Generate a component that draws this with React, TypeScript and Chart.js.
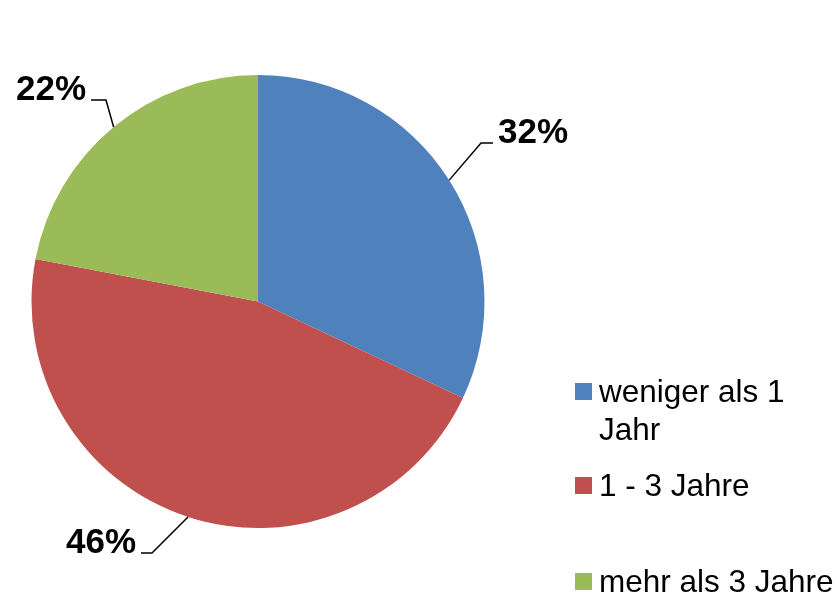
import React, { useEffect, useRef } from "react";
import { Chart, registerables } from "chart.js";

Chart.register(...registerables);

const categories = ["weniger als 1 Jahr", "1 - 3 Jahre", "mehr als 3 Jahre"];
const values = [32, 46, 22];
const colors = ["#4F81BD", "#C0504D", "#9BBB59"];

const FONT = "'Liberation Sans', Arial, sans-serif";

// elbow points of the leader lines, side and length of horizontal segment
const labelElbows = [
  { x: 481, y: 143, side: 1, len: 12 },
  { x: 152, y: 553, side: -1, len: 11 },
  { x: 106, y: 100, side: -1, len: 15 },
];
const legendTops = [383, 477, 573];

const labelPlugin = {
  id: "pieLabels",
  afterDatasetsDraw(chart: any) {
    const ctx = chart.ctx;
    const meta = chart.getDatasetMeta(0);
    const total = values.reduce((a, b) => a + b, 0);
    ctx.save();
    meta.data.forEach((arc: any, i: number) => {
      const { x, y, outerRadius, startAngle, endAngle } = arc.getProps(
        ["x", "y", "outerRadius", "startAngle", "endAngle"],
        true
      );
      const mid = (startAngle + endAngle) / 2;
      const px = x + Math.cos(mid) * outerRadius;
      const py = y + Math.sin(mid) * outerRadius;
      const e = labelElbows[i];
      const hx = e.x + e.side * e.len;
      ctx.strokeStyle = "#000";
      ctx.lineWidth = 1.5;
      ctx.beginPath();
      ctx.moveTo(px, py);
      ctx.lineTo(e.x, e.y);
      ctx.lineTo(hx, e.y);
      ctx.stroke();
      ctx.fillStyle = "#000";
      ctx.font = `bold 35px ${FONT}`;
      ctx.textBaseline = "alphabetic";
      ctx.textAlign = e.side > 0 ? "left" : "right";
      const txt = Math.round((values[i] / total) * 100) + "%";
      ctx.fillText(txt, hx + e.side * 5, e.y);
    });
    ctx.restore();
  },
};

const legendPlugin = {
  id: "customLegend",
  afterDraw(chart: any) {
    const ctx = chart.ctx;
    ctx.save();
    ctx.font = `31.5px ${FONT}`;
    const textX = 599;
    const maxW = 235;
    categories.forEach((label, i) => {
      const top = legendTops[i];
      ctx.fillStyle = colors[i];
      ctx.fillRect(575, top, 17, 17);
      const words = label.split(" ");
      const lines: string[] = [];
      let cur = "";
      words.forEach((w) => {
        const t = cur ? cur + " " + w : w;
        if (ctx.measureText(t).width > maxW && cur) {
          lines.push(cur);
          cur = w;
        } else cur = t;
      });
      if (cur) lines.push(cur);
      ctx.fillStyle = "#000";
      ctx.textAlign = "left";
      ctx.textBaseline = "alphabetic";
      lines.forEach((ln, j) => {
        ctx.fillText(ln, textX, top + 19 + j * 38);
      });
    });
    ctx.restore();
  },
};

export default function App() {
  const ref = useRef<HTMLCanvasElement | null>(null);
  useEffect(() => {
    if (!ref.current) return;
    const chart = new Chart(ref.current, {
      type: "pie",
      data: {
        labels: categories,
        datasets: [
          {
            data: values,
            backgroundColor: colors,
            borderWidth: 0,
          },
        ],
      },
      options: {
        animation: false,
        responsive: false,
        maintainAspectRatio: false,
        layout: { padding: { left: 31.5, top: 75, right: 354.5, bottom: 64 } },
        plugins: {
          legend: { display: false },
          tooltip: { enabled: false },
        },
      },
      plugins: [labelPlugin, legendPlugin],
    });
    return () => chart.destroy();
  }, []);
  return (
    <div style={{ position: "fixed", left: 0, top: 0, width: 839, height: 592, background: "#fff" }}>
      <canvas ref={ref} width={839} height={592} style={{ width: 839, height: 592 }} />
    </div>
  );
}
